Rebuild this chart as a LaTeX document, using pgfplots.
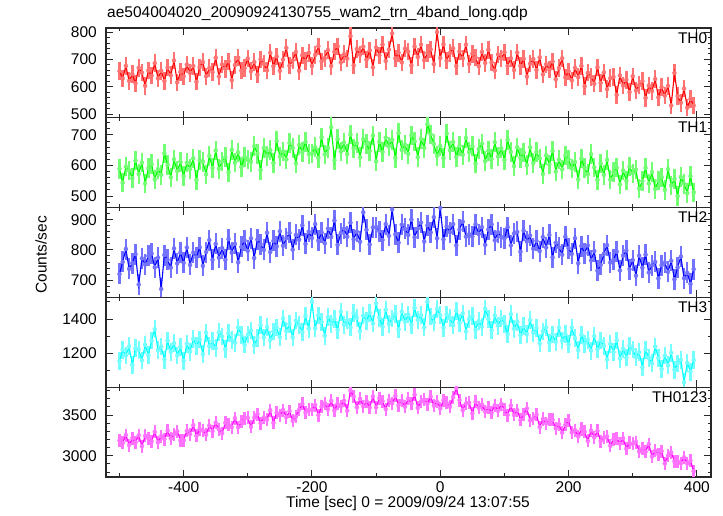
\documentclass[border=0pt]{standalone}
\usepackage{fontspec}
\setmainfont{Liberation Sans}
\usepackage{pgfplots}
\pgfplotsset{compat=1.18}
\usepackage{pgfplotstable}

\definecolor{qred}{RGB}{255,0,0}
\definecolor{qgreen}{RGB}{0,255,0}
\definecolor{qblue}{RGB}{0,0,255}
\definecolor{qcyan}{RGB}{0,255,255}
\definecolor{qmag}{RGB}{255,0,255}
\definecolor{frame}{RGB}{40,40,40}

\newcommand\lbl{\fontsize{15.5}{18}\selectfont}

% t [sec], TH0, TH1, TH2, TH3, TH0123 (counts/sec)
\pgfplotstableread{
t th0 th1 th2 th3 all
-500 657 589 720 1154 3186
-495 630 544 760 1220 3157
-490 676 596 803 1187 3254
-485 621 584 737 1240 3131
-480 646 558 756 1132 3214
-475 612 616 786 1229 3164
-470 669 572 685 1221 3249
-465 651 609 772 1158 3118
-460 603 541 751 1249 3243
-455 659 591 780 1189 3212
-450 640 604 788 1274 3175
-445 686 554 742 1340 3292
-440 630 588 774 1218 3165
-435 658 569 670 1239 3240
-430 621 639 783 1163 3205
-425 670 602 767 1273 3307
-420 642 561 741 1209 3212
-415 696 620 805 1259 3263
-410 616 582 755 1187 3300
-405 654 611 791 1236 3189
-400 638 565 757 1157 3190
-395 681 609 808 1255 3306
-390 650 588 750 1209 3265
-385 676 623 791 1284 3375
-380 618 552 775 1243 3243
-375 671 617 809 1280 3328
-370 690 612 747 1195 3310
-365 638 571 793 1320 3258
-360 668 631 833 1241 3371
-355 653 592 767 1271 3301
-350 706 649 820 1229 3407
-345 637 589 774 1322 3324
-340 681 613 806 1298 3276
-335 665 627 767 1224 3403
-330 693 577 836 1316 3383
-325 624 651 791 1276 3351
-320 679 609 820 1262 3460
-315 706 643 759 1350 3350
-310 659 595 810 1306 3416
-305 668 628 831 1251 3463
-300 703 619 797 1309 3465
-295 657 612 839 1333 3355
-290 690 663 773 1246 3465
-285 644 638 835 1291 3511
-280 700 585 819 1363 3400
-275 684 657 800 1292 3468
-270 660 631 857 1354 3442
-265 724 650 793 1278 3558
-260 675 608 830 1327 3404
-255 711 680 812 1350 3530
-250 658 629 862 1294 3495
-245 699 646 814 1403 3561
-240 742 620 839 1330 3473
-235 677 674 857 1369 3547
-230 696 657 801 1292 3429
-225 727 607 850 1391 3479
-220 658 667 834 1364 3565
-215 715 644 882 1324 3636
-210 694 677 820 1416 3532
-205 724 637 861 1343 3562
-200 676 639 840 1500 3562
-195 716 660 886 1345 3622
-190 748 625 831 1420 3500
-185 693 692 858 1383 3602
-180 704 636 822 1303 3644
-175 734 658 871 1410 3572
-170 676 725 843 1370 3673
-165 728 617 898 1400 3557
-160 748 686 817 1336 3639
-155 689 646 856 1443 3607
-150 719 675 871 1366 3675
-145 703 637 844 1392 3553
-140 785 701 891 1351 3800
-135 678 656 835 1433 3725
-130 738 673 861 1407 3593
-125 717 627 827 1330 3699
-120 747 686 925 1420 3606
-115 699 670 867 1386 3670
-110 733 648 818 1435 3592
-105 671 698 875 1374 3730
-100 744 614 876 1490 3594
-95 715 677 863 1407 3706
-90 754 644 833 1355 3670
-85 694 691 886 1454 3572
-80 736 662 847 1371 3684
-75 795 684 935 1403 3644
-70 704 625 852 1430 3734
-65 724 706 824 1340 3622
-60 689 651 884 1443 3676
-55 740 668 870 1383 3602
-50 728 638 850 1426 3699
-45 678 698 901 1367 3641
-40 747 679 842 1464 3749
-35 709 627 871 1395 3587
-30 754 686 891 1422 3663
-25 697 657 828 1351 3691
-20 723 735 882 1500 3635
-15 736 702 858 1415 3727
-10 683 670 909 1380 3615
-5 800 631 839 1457 3665
0 705 663 940 1421 3581
5 755 624 835 1349 3680
10 695 704 878 1426 3650
15 723 649 859 1405 3601
20 741 677 886 1364 3720
25 676 628 815 1448 3830
30 729 663 868 1378 3683
35 704 635 894 1432 3560
40 754 690 844 1327 3641
45 683 644 852 1400 3650
50 720 663 844 1416 3520
55 706 606 885 1337 3661
60 675 654 853 1387 3588
65 727 671 876 1355 3629
70 687 614 817 1459 3540
75 735 648 868 1400 3594
80 689 621 885 1334 3527
85 659 676 832 1421 3620
90 718 629 859 1361 3551
95 703 656 843 1403 3635
100 726 618 838 1373 3564
105 676 684 876 1311 3500
110 704 644 815 1428 3615
115 661 598 855 1343 3501
120 725 659 860 1383 3560
125 676 625 794 1306 3440
130 702 642 864 1357 3506
135 637 601 828 1312 3579
140 684 659 848 1393 3433
145 701 608 804 1320 3458
150 661 644 830 1346 3504
155 707 623 796 1258 3352
160 645 572 843 1327 3451
165 682 633 808 1350 3395
170 662 603 850 1261 3440
175 692 648 775 1310 3442
180 627 580 824 1267 3336
185 668 619 809 1348 3387
190 704 587 784 1274 3281
195 634 633 844 1312 3378
200 656 620 806 1252 3436
205 623 590 787 1350 3285
210 669 611 839 1288 3315
215 635 554 756 1218 3236
220 676 622 813 1308 3328
225 602 592 789 1255 3293
230 651 572 815 1278 3182
235 636 637 765 1215 3310
240 611 594 796 1300 3225
245 671 553 731 1222 3305
250 614 606 750 1275 3180
255 652 569 787 1242 3221
260 591 618 816 1163 3237
265 631 554 758 1254 3122
270 636 578 767 1207 3204
275 570 593 794 1274 3215
280 641 538 732 1168 3146
285 604 583 781 1226 3214
290 625 550 798 1175 3085
295 580 596 736 1244 3159
300 638 574 766 1222 3144
305 586 586 714 1176 3168
310 606 524 781 1205 3050
315 620 549 741 1118 3094
320 559 592 784 1221 3049
325 604 541 725 1173 3141
330 584 578 749 1142 2989
335 628 523 760 1239 3063
340 561 550 705 1172 3015
345 598 561 749 1109 3057
350 567 520 758 1187 2904
355 603 588 727 1130 3000
360 531 535 764 1203 3040
365 650 556 702 1104 2930
370 566 500 742 1140 2934
375 541 562 778 1162 2908
380 593 540 706 1030 2980
385 523 509 724 1144 2903
390 555 565 687 1093 2939
395 531 512 736 1160 2809
}\lc

\pgfplotsset{
  panel/.style={
    scale only axis, width=605pt, height=89.8pt, anchor=south west,
    xmin=-521, xmax=422,
    xtick={-400,-200,0,200,400}, minor xtick={-500,-300,-100,100,300},
    tick align=inside, tick pos=both,
    major tick length=7pt, minor tick length=3.5pt,
    axis line style={frame, line width=1.1pt},
    tick style={frame, line width=0.9pt},
    yticklabel style={font=\lbl, inner sep=0pt, anchor=east, xshift=-9pt},
    xticklabel style={font=\lbl, inner sep=0pt, anchor=north, yshift=-4.7pt},
    /pgf/number format/assume math mode=true,
    /pgf/number format/1000 sep={},
    scaled ticks=false,
  },
  upper/.style={panel, xticklabels={}},
  % light error bars under the curve, as in the qdp plot
  errbar/.style 2 args={#1!55, only marks, mark=none, forget plot,
    error bars/.cd, y dir=both, y fixed=#2, error mark=none,
    error bar style={#1!55, line width=2.4pt}},
  curve/.style={#1, no marks, line width=1.1pt},
}

\newcommand\tag[1]{\node[anchor=north east, inner sep=0pt, font=\lbl, xshift=-3.5pt, yshift=-4pt] at (rel axis cs:1,1) {#1};}

\begin{document}
\begin{tikzpicture}
\useasboundingbox (0pt,0pt) rectangle (723pt,516pt);

\begin{axis}[upper, at={(106pt,398.2pt)}, ymin=486, ymax=815,
  ytick={500,600,700,800}, minor ytick={500,520,...,800}]
  \addplot[errbar={qred}{32}] table[x=t, y=th0] {\lc};
  \addplot[curve=qred] table[x=t, y=th0] {\lc};
  \tag{TH0}
\end{axis}

\begin{axis}[upper, at={(106pt,308.4pt)}, ymin=462, ymax=756,
  ytick={500,600,700}, minor ytick={480,500,...,740}]
  \addplot[errbar={qgreen}{32}] table[x=t, y=th1] {\lc};
  \addplot[curve=qgreen] table[x=t, y=th1] {\lc};
  \tag{TH1}
\end{axis}

\begin{axis}[upper, at={(106pt,218.6pt)}, ymin=642, ymax=941,
  ytick={700,800,900}, minor ytick={660,680,...,940}]
  \addplot[errbar={qblue}{35}] table[x=t, y=th2] {\lc};
  \addplot[curve=qblue] table[x=t, y=th2] {\lc};
  \tag{TH2}
\end{axis}

\begin{axis}[upper, at={(106pt,128.8pt)}, ymin=1002, ymax=1526,
  ytick={1200,1400}, minor ytick={1100,1300,1500}]
  \addplot[errbar={qcyan}{52}] table[x=t, y=th3] {\lc};
  \addplot[curve=qcyan] table[x=t, y=th3] {\lc};
  \tag{TH3}
\end{axis}

\begin{axis}[panel, at={(106pt,39pt)}, ymin=2738, ymax=3842,
  ytick={3000,3500}, minor ytick={2800,2900,...,3800}]
  \addplot[errbar={qmag}{80}] table[x=t, y=all] {\lc};
  \addplot[curve=qmag] table[x=t, y=all] {\lc};
  \tag{TH0123}
\end{axis}

\node[anchor=base west, font=\lbl, inner sep=0pt] at (107pt,498pt)
  {ae504004020\_20090924130755\_wam2\_trn\_4band\_long.qdp};
\node[rotate=90, font=\lbl, inner sep=0pt] at (41pt,261pt) {Counts/sec};
\node[anchor=base, font=\lbl, inner sep=0pt] at (408pt,8pt)
  {Time [sec] 0 = 2009/09/24 13:07:55};
\end{tikzpicture}
\end{document}
